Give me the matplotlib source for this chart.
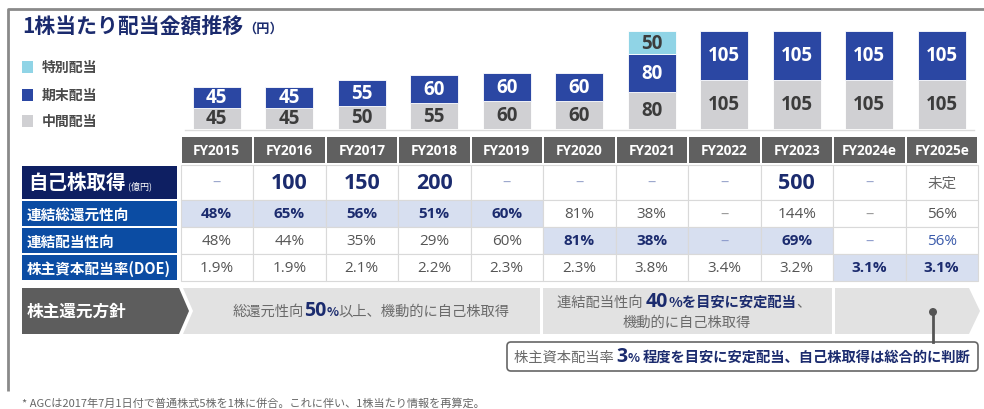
import matplotlib
matplotlib.use('Agg')
import matplotlib.pyplot as plt
from matplotlib.patches import Rectangle, Polygon, FancyBboxPatch, Circle
import numpy as np

plt.rcParams['font.family'] = ['Noto Sans CJK JP', 'DejaVu Sans']
NUM = ['Open Sans', 'Noto Sans CJK JP', 'DejaVu Sans']

# ---- data ----
years = ['FY2015', 'FY2016', 'FY2017', 'FY2018', 'FY2019', 'FY2020',
         'FY2021', 'FY2022', 'FY2023', 'FY2024e', 'FY2025e']
interim = [45, 45, 50, 55, 60, 60, 80, 105, 105, 105, 105]
final = [45, 45, 55, 60, 60, 60, 80, 105, 105, 105, 105]
special = [0, 0, 0, 0, 0, 0, 50, 0, 0, 0, 0]

buyback = ['–', '100', '150', '200', '–', '–', '–', '–', '500', '–', '未定']
total_payout = ['48%', '65%', '56%', '51%', '60%', '81%', '38%', '–', '144%', '–', '56%']
payout = ['48%', '44%', '35%', '29%', '60%', '81%', '38%', '–', '69%', '–', '56%']
doe = ['1.9%', '1.9%', '2.1%', '2.2%', '2.3%', '2.3%', '3.8%', '3.4%', '3.2%', '3.1%', '3.1%']

row_labels = ['連結総還元性向', '連結配当性向', '株主資本配当率(DOE)']
row_values = [total_payout, payout, doe]
row_highlight = [[0, 1, 2, 3, 4], [5, 6, 7, 8], [9, 10]]
row_blue = [[], [9, 10], []]   # blue text, no highlight

# ---- colours ----
GRAY_BAR = '#d0d0d3'
NAVY_BAR = '#2b47a3'
CYAN_BAR = '#90d4e6'
NAVY_TXT = '#1b2b6e'
DARK = '#3c3c3c'
HEAD = '#606060'
LBL1 = '#0e1f62'
LBL2 = '#0b4ca3'
HILITE = '#d7dff0'
GRID = '#d9d9d9'
SOFT = '#6a6a6a'

W, H = 984, 410
fig = plt.figure(figsize=(W / 100, H / 100), dpi=100)
ax = fig.add_axes([0, 0, 1, 1])
ax.set_xlim(0, W)
ax.set_ylim(H, 0)
ax.axis('off')
renderer = fig.canvas.get_renderer()


def rich(x, y, parts, ha='left'):
    # parts drawn side by side on a common baseline y
    texts = []
    widths = []
    for s, kw in parts:
        t = ax.text(0, y, s, ha='left', va='baseline', **kw)
        texts.append(t)
        widths.append(t.get_window_extent(renderer).width)
    cur = x - sum(widths) / 2 if ha == 'center' else x
    for t, w in zip(texts, widths):
        t.set_x(cur)
        cur += w


# frame
ax.plot([8, 8, W], [392, 10, 10], color='#8a8a8a', lw=2, solid_capstyle='butt')

# title
rich(22, 33, [('1株当たり配当金額推移', dict(fontsize=15, weight='bold', color=NAVY_TXT)),
              ('（円）', dict(fontsize=9.5, weight='bold', color=NAVY_TXT))])

# legend
for yy, c, s in [(68, CYAN_BAR, '特別配当'), (96, NAVY_BAR, '期末配当'), (122, GRAY_BAR, '中間配当')]:
    ax.add_patch(Rectangle((22, yy - 6), 11, 12, fc=c, ec='none'))
    ax.text(42, yy, s, fontsize=10, weight='bold', color='#4a4a4a', va='center')

# ---- bars ----
col0, colw = 180.5, 72.5
n = len(years)
scale = 0.467  # px per yen
bx = fig.add_axes([col0 / W, (H - 130) / H, n * colw / W, 230 * scale / H])
bx.set_xlim(-0.5, n - 0.5)
bx.set_ylim(0, 230)
bx.axis('off')
x = np.arange(n)
interim_a = np.array(interim)
final_a = np.array(final)
special_a = np.array(special)
bw = 0.66
bx.bar(x, interim_a, bw, color=GRAY_BAR, edgecolor='white', lw=0.6)
bx.bar(x, final_a, bw, bottom=interim_a, color=NAVY_BAR, edgecolor='white', lw=0.6)
m = special_a > 0
bx.bar(x[m], special_a[m], bw, bottom=(interim_a + final_a)[m], color=CYAN_BAR,
       edgecolor='white', lw=0.6)
for i in range(n):
    bx.text(i, interim[i] / 2, str(interim[i]), ha='center', va='center', fontsize=13.5,
            weight='bold', color=DARK, family=NUM)
    bx.text(i, interim[i] + final[i] / 2, str(final[i]), ha='center', va='center',
            fontsize=13.5, weight='bold', color='white', family=NUM)
    if special[i]:
        bx.text(i, interim[i] + final[i] + special[i] / 2, str(special[i]), ha='center',
                va='center', fontsize=13.5, weight='bold', color=DARK, family=NUM)
ax.plot([185, 974], [131, 131], color='#dcdcdc', lw=1)

# ---- table ----
for i, yr in enumerate(years):
    ax.add_patch(Rectangle((col0 + i * colw + 1, 138), colw - 2, 26, fc=HEAD, ec='none'))
    ax.text(col0 + (i + 0.5) * colw, 151.5, yr, ha='center', va='center', fontsize=9.8,
            weight='bold', color='white', family=NUM)

rows_y = [(165.5, 201), (201, 228), (228, 255), (255, 282)]

# row 1: buyback
y0, y1 = rows_y[0]
ax.add_patch(Rectangle((22, y0 + 1), 155, y1 - y0 - 2, fc=LBL1, ec='none'))
rich(28, (y0 + y1) / 2 + 5.5, [('自己株取得', dict(fontsize=14, weight='bold', color='white')),
                              (' (億円)', dict(fontsize=6.5, color='white'))])
for i, v in enumerate(buyback):
    ax.add_patch(Rectangle((col0 + i * colw, y0), colw, y1 - y0, fc='white', ec=GRID, lw=0.8))
    cx, cy = col0 + (i + 0.5) * colw, (y0 + y1) / 2
    if v == '–':
        ax.text(cx, cy, v, ha='center', va='center', fontsize=12, color='#9aa6cc', family=NUM)
    elif v == '未定':
        ax.text(cx, cy, v, ha='center', va='center', fontsize=10.5, color='#666666')
    else:
        ax.text(cx, cy, v, ha='center', va='center', fontsize=15.5, weight='bold',
                color=NAVY_TXT, family=NUM)

# rows 2-4
for r, (lab, vals) in enumerate(zip(row_labels, row_values)):
    y0, y1 = rows_y[r + 1]
    cy = (y0 + y1) / 2
    ax.add_patch(Rectangle((22, y0 + 1), 155, y1 - y0 - 2, fc=LBL2, ec='none'))
    ax.text(27, cy, lab, va='center', fontsize=10.5, weight='bold', color='white')
    for i, v in enumerate(vals):
        hl = i in row_highlight[r]
        ax.add_patch(Rectangle((col0 + i * colw, y0), colw, y1 - y0,
                               fc=HILITE if hl else 'white', ec=GRID, lw=0.8))
        cx = col0 + (i + 0.5) * colw
        if v == '–':
            c = '#8e9ccc' if (hl or i in row_blue[r]) else '#9a9a9a'
            ax.text(cx, cy, v, ha='center', va='center', fontsize=12, color=c, family=NUM)
        elif hl:
            ax.text(cx, cy, v, ha='center', va='center', fontsize=11, weight='bold',
                    color=NAVY_TXT, family=NUM)
        else:
            c = '#3b5bab' if i in row_blue[r] else '#555555'
            ax.text(cx, cy, v, ha='center', va='center', fontsize=11, color=c, family=NUM)

# ---- policy row ----
ax.add_patch(Polygon([(22, 289), (179, 289), (189, 312), (179, 335), (22, 335)],
                     closed=True, fc='#5d5d5d', ec='none'))
ax.text(27, 312, '株主還元方針', va='center', fontsize=12, weight='bold', color='white')
ax.add_patch(Polygon([(183, 289), (540, 289), (540, 335), (183, 335), (193, 312)],
                     closed=True, fc='#e2e2e2', ec='none'))
ax.add_patch(Rectangle((543, 289), 289, 46, fc='#e2e2e2', ec='none'))
ax.add_patch(Polygon([(835, 289), (969, 289), (980, 312), (969, 335), (835, 335)],
                     closed=True, fc='#e2e2e2', ec='none'))

g10 = dict(fontsize=10.3, color=SOFT)
nb14 = dict(fontsize=14, weight='bold', color=NAVY_TXT, family=NUM)
nb9 = dict(fontsize=9, weight='bold', color=NAVY_TXT)
nb10 = dict(fontsize=10.3, weight='bold', color=NAVY_TXT)

rich(371, 316, [('総還元性向', g10), ('50', nb14), ('%', nb9), ('以上、機動的に自己株取得', g10)],
     ha='center')
rich(684, 307, [('連結配当性向 ', g10), ('40', nb14), ('%を目安に安定配当', nb10), ('、', g10)],
     ha='center')
ax.text(687, 323, '機動的に自己株取得', ha='center', va='center', **g10)

# callout
ax.plot([933, 933], [313, 343], color='#555555', lw=2)
ax.add_patch(Circle((933, 313), 4, fc='#555555', ec='none'))
ax.add_patch(FancyBboxPatch((507, 343), 471, 29, boxstyle='round,pad=0,rounding_size=4',
                            fc='white', ec='#666666', lw=1.2))
rich(742, 362, [('株主資本配当率 ', g10), ('3', nb14), ('% ', nb9),
                ('程度を目安に安定配当、自己株取得は総合的に判断', nb10)], ha='center')

# footnote
ax.text(22, 403, '* AGCは2017年7月1日付で普通株式5株を1株に併合。これに伴い、1株当たり情報を再算定。',
        va='center', fontsize=8, color='#666666')

fig.savefig('out.png', dpi=100)
